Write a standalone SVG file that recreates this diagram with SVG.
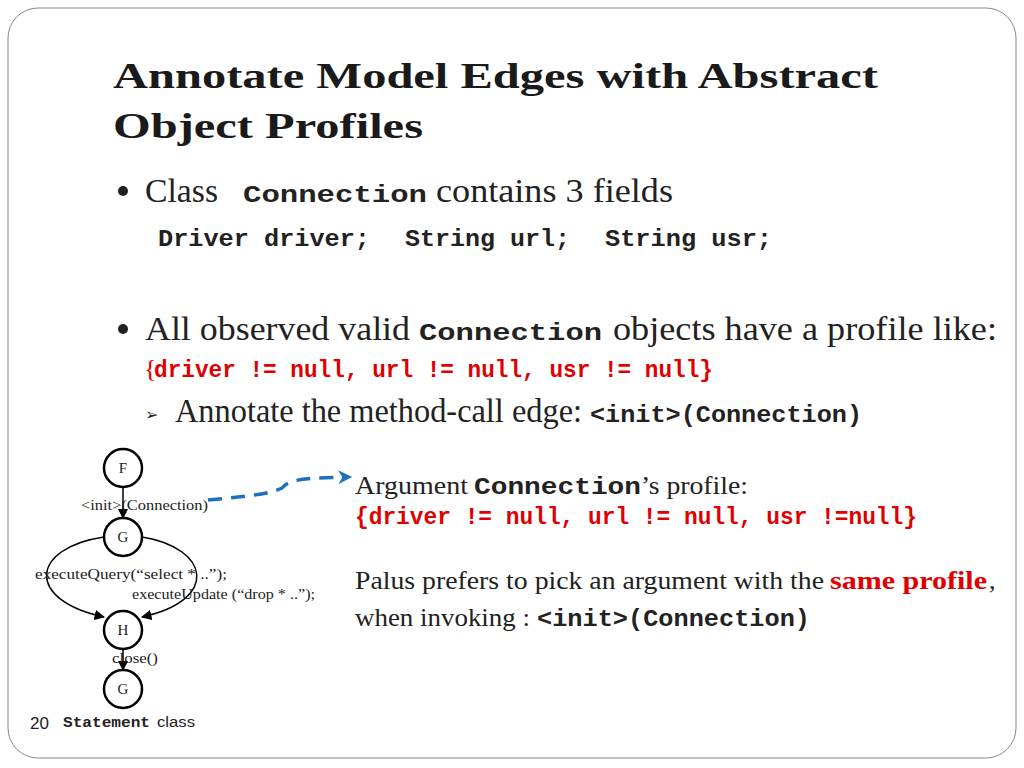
<svg xmlns="http://www.w3.org/2000/svg" width="1024" height="768" viewBox="0 0 1024 768">
<defs>
<style>
text{white-space:pre}
.t{font-family:"Liberation Serif",serif;font-weight:bold;font-size:36px;fill:#1a1a1a}
.s{font-family:"Liberation Serif",serif;font-size:33px;fill:#222}
.m{font-family:"Liberation Mono",monospace;font-weight:bold;font-size:24px;fill:#222}
.sm{font-family:"Liberation Serif",serif;font-size:26px;fill:#222}
.r{fill:#e00000}
.g{font-family:"Liberation Serif",serif;font-size:15px;fill:#222}
.n{fill:#fff;stroke:#000;stroke-width:2.5}
.e{fill:none;stroke:#000;stroke-width:1.5}
</style>
<marker id="a" viewBox="0 0 10 10" refX="9" refY="5" markerWidth="7" markerHeight="7" orient="auto"><path d="M0,0L10,5L0,10z" fill="#000"/></marker>
<marker id="b" viewBox="0 0 10 10" refX="7" refY="5" markerWidth="4" markerHeight="4" orient="auto"><path d="M0,0L10,5L0,10L3,5z" fill="#1f6fbf"/></marker>
</defs>
<rect x="8" y="8" width="1008" height="750" rx="30" fill="#fff" stroke="#888" stroke-width="1"/>
<text class="t" x="113" y="88" textLength="765" lengthAdjust="spacingAndGlyphs">Annotate Model Edges with Abstract</text>
<text class="t" x="113" y="138" textLength="310" lengthAdjust="spacingAndGlyphs">Object Profiles</text>
<circle cx="123" cy="191" r="5" fill="#222"/>
<text class="s" x="145" y="202" textLength="73" lengthAdjust="spacingAndGlyphs">Class</text>
<text class="m" x="243" y="202" textLength="184" lengthAdjust="spacingAndGlyphs">Connection</text>
<text class="s" x="436" y="202" textLength="237" lengthAdjust="spacingAndGlyphs">contains 3 fields</text>
<text class="m" x="158" y="246" textLength="212" lengthAdjust="spacingAndGlyphs">Driver driver;</text>
<text class="m" x="405" y="246" textLength="165" lengthAdjust="spacingAndGlyphs">String url;</text>
<text class="m" x="605" y="246" textLength="167" lengthAdjust="spacingAndGlyphs">String usr;</text>
<circle cx="123" cy="329" r="5" fill="#222"/>
<text class="s" x="145" y="340" textLength="265" lengthAdjust="spacingAndGlyphs">All observed valid</text>
<text class="m" x="419" y="340" textLength="183" lengthAdjust="spacingAndGlyphs">Connection</text>
<text class="s" x="613" y="340" textLength="384" lengthAdjust="spacingAndGlyphs">objects have a profile like:</text>
<text class="sm r" x="144" y="377" font-size="19">{</text>
<text class="m r" x="154" y="377" textLength="559" lengthAdjust="spacingAndGlyphs">driver != null, url != null, usr != null}</text>
<text x="145" y="420" font-size="16" font-family="DejaVu Sans,sans-serif" fill="#222">➢</text>
<text class="s" x="175" y="422" textLength="407" lengthAdjust="spacingAndGlyphs">Annotate the method-call edge:</text>
<text class="m" x="590" y="422" textLength="272" lengthAdjust="spacingAndGlyphs">&lt;init&gt;(Connection)</text>
<text class="sm" x="355" y="494" textLength="113" lengthAdjust="spacingAndGlyphs">Argument</text>
<text class="m" x="474" y="494" textLength="167" lengthAdjust="spacingAndGlyphs">Connection</text>
<text class="sm" x="641" y="494" textLength="107" lengthAdjust="spacingAndGlyphs">’s profile:</text>
<text class="m r" x="355" y="524" textLength="562" lengthAdjust="spacingAndGlyphs">{driver != null, url != null, usr !=null}</text>
<text class="sm" x="355" y="589" textLength="469" lengthAdjust="spacingAndGlyphs">Palus prefers to pick an argument with the</text>
<text class="sm r" x="830" y="589" font-weight="bold" textLength="157" lengthAdjust="spacingAndGlyphs">same profile</text>
<text class="sm" x="989" y="589">,</text>
<text class="sm" x="355" y="626" textLength="175" lengthAdjust="spacingAndGlyphs">when invoking :</text>
<text class="m" x="537" y="626" textLength="273" lengthAdjust="spacingAndGlyphs">&lt;init&gt;(Connection)</text>
<g id="connectors">
<path class="e" d="M123,487V518" marker-end="url(#a)"/>
<path class="e" d="M104,537C30,548 25,600 104,617" marker-end="url(#a)"/>
<path class="e" d="M142,537C210,548 220,600 142,617" marker-end="url(#a)"/>
<path class="e" d="M123,649V670" marker-end="url(#a)"/>
<path d="M208,500C250,496 270,494 282,488C290,478 310,478 348,477" fill="none" stroke="#1f6fbf" stroke-width="3.5" stroke-dasharray="14,9" marker-end="url(#b)"/>
</g>
<g id="F"><circle class="n" cx="123" cy="468" r="19"/><text class="g" x="123" y="473" text-anchor="middle">F</text></g>
<g id="G1"><circle class="n" cx="123" cy="537" r="19"/><text class="g" x="123" y="542" text-anchor="middle">G</text></g>
<g id="H"><circle class="n" cx="123" cy="630" r="19"/><text class="g" x="123" y="635" text-anchor="middle">H</text></g>
<g id="G2"><circle class="n" cx="123" cy="689" r="19"/><text class="g" x="123" y="694" text-anchor="middle">G</text></g>
<text class="g" x="81" y="510" textLength="127" lengthAdjust="spacingAndGlyphs">&lt;init&gt;(Connection)</text>
<text class="g" x="35" y="579" textLength="192" lengthAdjust="spacingAndGlyphs">executeQuery(“select * ..”);</text>
<text class="g" x="132" y="599" textLength="183" lengthAdjust="spacingAndGlyphs">executeUpdate (“drop * ..”);</text>
<text class="g" x="112" y="663" textLength="46" lengthAdjust="spacingAndGlyphs">close()</text>
<text x="30" y="729" font-family="Liberation Sans,sans-serif" font-size="17" fill="#222">20</text>
<text x="63" y="727" font-family="Liberation Mono,monospace" font-weight="bold" font-size="14" fill="#222" textLength="87" lengthAdjust="spacingAndGlyphs">Statement</text>
<text x="157" y="727" font-family="Liberation Sans,sans-serif" font-size="14" fill="#222" textLength="38" lengthAdjust="spacingAndGlyphs">class</text>
</svg>
